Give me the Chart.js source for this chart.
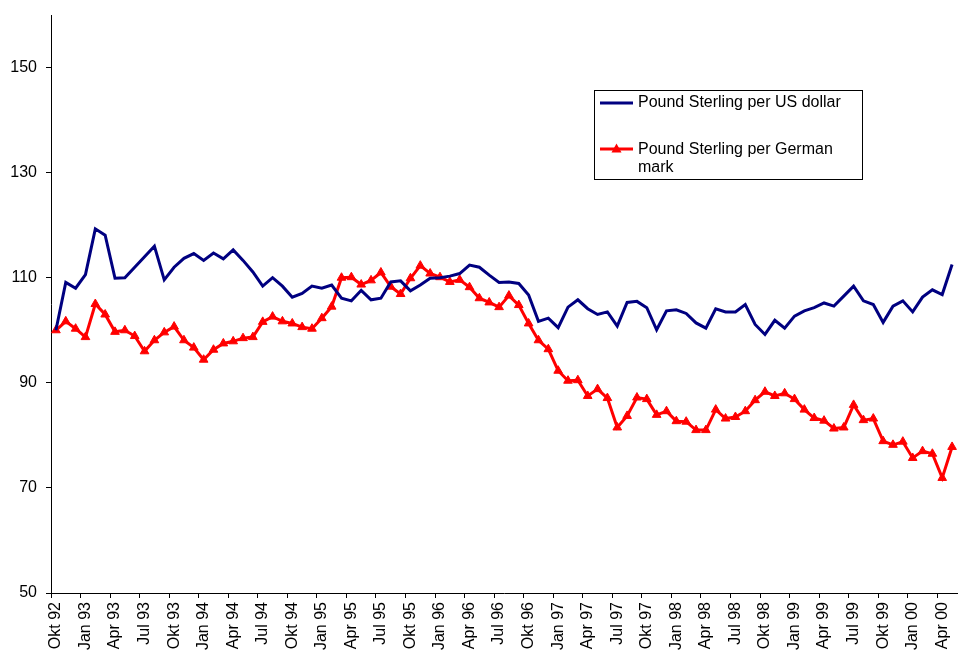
<!DOCTYPE html>
<html>
<head>
<meta charset="utf-8">
<script src="https://cdn.jsdelivr.net/npm/chart.js@4.4.1/dist/chart.umd.min.js"></script>
<style>
html,body{margin:0;padding:0;background:#fff;}
#wrap{width:958px;height:657px;position:relative;}
</style>
</head>
<body>
<div id="wrap"><canvas id="c" width="958" height="657"></canvas></div>
<script>
const categories = [
"Okt 92","Nov 92","Dez 92",
"Jan 93","Feb 93","Mär 93","Apr 93","Mai 93","Jun 93","Jul 93","Aug 93","Sep 93","Okt 93","Nov 93","Dez 93",
"Jan 94","Feb 94","Mär 94","Apr 94","Mai 94","Jun 94","Jul 94","Aug 94","Sep 94","Okt 94","Nov 94","Dez 94",
"Jan 95","Feb 95","Mär 95","Apr 95","Mai 95","Jun 95","Jul 95","Aug 95","Sep 95","Okt 95","Nov 95","Dez 95",
"Jan 96","Feb 96","Mär 96","Apr 96","Mai 96","Jun 96","Jul 96","Aug 96","Sep 96","Okt 96","Nov 96","Dez 96",
"Jan 97","Feb 97","Mär 97","Apr 97","Mai 97","Jun 97","Jul 97","Aug 97","Sep 97","Okt 97","Nov 97","Dez 97",
"Jan 98","Feb 98","Mär 98","Apr 98","Mai 98","Jun 98","Jul 98","Aug 98","Sep 98","Okt 98","Nov 98","Dez 98",
"Jan 99","Feb 99","Mär 99","Apr 99","Mai 99","Jun 99","Jul 99","Aug 99","Sep 99","Okt 99","Nov 99","Dez 99",
"Jan 00","Feb 00","Mär 00","Apr 00","Mai 00"
];
const usdValues = [
100,109.1,108.0,110.6,119.3,118.1,109.9,110.0,112.0,114.0,116.0,109.6,112.0,113.7,114.6,
113.3,114.7,113.6,115.3,113.3,111.1,108.4,110.0,108.4,106.3,107.0,108.4,
108.0,108.6,106.1,105.6,107.6,105.8,106.1,109.2,109.4,107.5,108.6,109.9,
110.0,110.3,110.8,112.4,112.0,110.5,109.1,109.2,108.9,106.7,101.7,102.3,
100.5,104.4,105.8,104.1,103.0,103.5,100.8,105.3,105.5,104.3,100.1,103.7,
103.9,103.2,101.4,100.4,104.1,103.5,103.5,104.9,101.1,99.2,101.9,100.4,
102.7,103.7,104.3,105.2,104.6,106.5,108.4,105.6,104.9,101.5,104.6,105.6,
103.5,106.3,107.7,106.8,112.5
];
const dmValues = [
100,101.7,100.3,98.7,105.0,103.0,99.7,100.0,98.9,96.0,98.1,99.6,100.7,98.1,96.7,
94.4,96.3,97.5,97.9,98.5,98.7,101.6,102.6,101.7,101.3,100.6,100.3,
102.3,104.5,110.0,110.1,108.7,109.5,111.0,108.3,106.9,109.9,112.3,110.8,
110.1,109.2,109.6,108.2,106.1,105.3,104.4,106.6,104.8,101.3,98.1,96.4,
92.3,90.4,90.5,87.5,88.8,87.1,81.5,83.7,87.2,86.9,83.9,84.6,
82.7,82.6,81.0,81.0,84.9,83.2,83.5,84.6,86.7,88.3,87.5,88.0,
86.9,84.9,83.3,82.8,81.3,81.5,85.8,82.9,83.2,78.9,78.2,78.8,
75.7,77.0,76.5,71.9,77.8
];
const yTicks = [50,70,90,110,130,150];
const seriesNames = ["Pound Sterling per US dollar", ["Pound Sterling per German", "mark"]];

const FONT = "'Liberation Sans', Arial, sans-serif";

const boxLegend = {
  id: 'boxLegend',
  afterDraw(chart) {
    const ctx = chart.ctx;
    ctx.save();
    const x = 594.5, y = 90.5, w = 268, h = 89;
    ctx.fillStyle = '#fff';
    ctx.fillRect(x, y, w, h);
    ctx.strokeStyle = '#000';
    ctx.lineWidth = 1;
    ctx.strokeRect(x, y, w, h);
    ctx.font = '16px ' + FONT;
    ctx.textBaseline = 'middle';
    ctx.fillStyle = '#000';
    const ds = chart.data.datasets;
    ctx.strokeStyle = ds[0].borderColor;
    ctx.lineWidth = 3;
    ctx.beginPath(); ctx.moveTo(600, 103); ctx.lineTo(633, 103); ctx.stroke();
    ctx.fillText(seriesNames[0], 638, 103);
    ctx.strokeStyle = ds[1].borderColor;
    ctx.beginPath(); ctx.moveTo(600, 149); ctx.lineTo(633, 149); ctx.stroke();
    ctx.fillStyle = ds[1].borderColor;
    ctx.beginPath();
    ctx.moveTo(616.5, 143.5); ctx.lineTo(621.5, 152.5); ctx.lineTo(611.5, 152.5); ctx.closePath(); ctx.fill();
    ctx.fillStyle = '#000';
    ctx.fillText(seriesNames[1][0], 638, 150);
    ctx.fillText(seriesNames[1][1], 638, 168);
    ctx.restore();
  }
};

new Chart(document.getElementById('c'), {
  type: 'line',
  data: {
    labels: categories,
    datasets: [
      {
        label: "Pound Sterling per US dollar",
        data: usdValues,
        borderColor: '#000080',
        backgroundColor: '#000080',
        borderWidth: 3,
        pointRadius: 0,
        tension: 0
      },
      {
        label: "Pound Sterling per German mark",
        data: dmValues,
        borderColor: '#ff0000',
        backgroundColor: '#ff0000',
        borderWidth: 3,
        pointStyle: 'triangle',
        pointRadius: 5,
        pointBorderWidth: 1,
        tension: 0
      }
    ]
  },
  options: {
    responsive: false,
    animation: false,
    layout: { autoPadding: false, padding: { left: 0, right: 1, top: 15, bottom: 0 } },
    plugins: { legend: { display: false }, tooltip: { enabled: false } },
    scales: {
      x: {
        type: 'category',
        offset: true,
        afterFit(scale) { scale.height = 64; scale.paddingLeft = 0; scale.paddingRight = 0; },
        grid: {
          offset: true,
          drawOnChartArea: false,
          drawTicks: true,
          tickLength: 5,
          color: (c) => (c.index % 3 === 0 ? '#000' : 'rgba(0,0,0,0)')
        },
        border: { display: true, color: '#000', width: 1 },
        ticks: {
          autoSkip: false,
          maxRotation: 90,
          minRotation: 90,
          padding: 4,
          color: '#000',
          font: { family: FONT, size: 16 },
          callback: function (v, i) { return i % 3 === 0 ? this.getLabelForValue(v) : ''; }
        }
      },
      y: {
        min: 50,
        max: 160,
        afterFit(scale) { scale.width = 51; scale.paddingTop = 0; scale.paddingBottom = 0; },
        afterBuildTicks(scale) { scale.ticks = yTicks.map(v => ({ value: v })); },
        grid: {
          drawOnChartArea: false,
          drawTicks: true,
          tickLength: 5,
          color: '#000'
        },
        border: { display: true, color: '#000', width: 1 },
        ticks: {
          padding: 9,
          color: '#000',
          font: { family: FONT, size: 16 }
        }
      }
    }
  },
  plugins: [boxLegend]
});
</script>
</body>
</html>
